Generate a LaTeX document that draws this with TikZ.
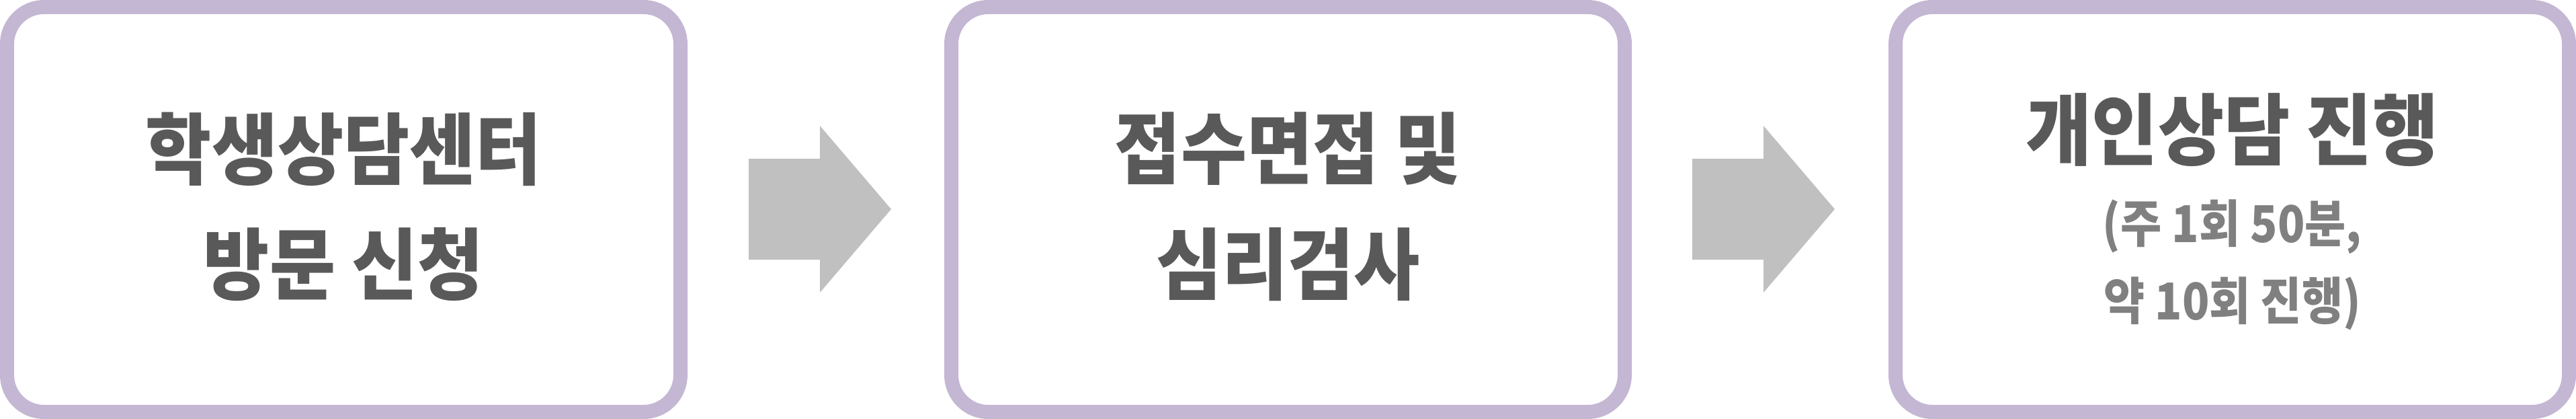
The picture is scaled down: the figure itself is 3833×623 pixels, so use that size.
\documentclass[tikz,border=0pt]{standalone}
\usepackage{fontspec}
\usepackage{graphicx}
\newfontfamily\krfont{Noto Sans CJK KR}
\definecolor{lav}{RGB}{195,183,211}
\definecolor{maintxt}{RGB}{89,89,89}
\definecolor{subtxt}{RGB}{128,128,128}
\definecolor{arrgray}{RGB}{192,192,192}
\newcommand{\narrowmain}[1]{\scalebox{0.92}[1]{#1}}
\newcommand{\narrowsub}[1]{\scalebox{0.88}[1]{#1}}
\tikzset{
  procbox/.style={draw=lav, line width=4.2mm, rounded corners=11mm, fill=white,
    minimum width=200.4mm, minimum height=120.4mm, inner sep=0pt},
  maintext/.style={text=maintxt, inner sep=0pt, font=\krfont\bfseries\fontsize{66pt}{74pt}\selectfont},
  subtext/.style={text=subtxt, inner sep=0pt, font=\krfont\bfseries\fontsize{43pt}{48pt}\selectfont},
  blockarrow/.style={fill=arrgray, draw=none}
}
\begin{document}
\begin{tikzpicture}[x=0.2mm, y=-0.2mm]
\useasboundingbox (0,0) rectangle (3833,623);
% boxes
\node[procbox] (b1) at (511.5,311.5) {};
\node[procbox] (b2) at (1916.5,311.5) {};
\node[procbox] (b3) at (3321.5,311.5) {};
% texts box 1
\node[maintext] (t1a) at (511.5,221.5) {\narrowmain{학생상담센터}};
\node[maintext] (t1b) at (511.5,393.5) {\narrowmain{방문 신청}};
% texts box 2
\node[maintext] (t2a) at (1916.5,221.5) {\narrowmain{접수면접 및}};
\node[maintext] (t2b) at (1916.5,393.5) {\narrowmain{심리검사}};
% texts box 3
\node[maintext] (t3a) at (3321.5,193.5) {\narrowmain{개인상담 진행}};
\node[subtext] (t3b) at (3321.5,337.5) {\narrowsub{(주 1회 50분,}};
\node[subtext] (t3c) at (3321.5,451) {\narrowsub{약 10회 진행)}};
% block arrows
\coordinate (a1) at (1114,311);
\coordinate (a2) at (2518,311);
\fill[blockarrow] (a1) ++(0,-75) -- ++(106,0) -- ++(0,-49) -- ++(106,124) -- ++(-106,124) -- ++(0,-49) -- ++(-106,0) -- cycle;
\fill[blockarrow] (a2) ++(0,-75) -- ++(106,0) -- ++(0,-49) -- ++(106,124) -- ++(-106,124) -- ++(0,-49) -- ++(-106,0) -- cycle;
\end{tikzpicture}
\end{document}
